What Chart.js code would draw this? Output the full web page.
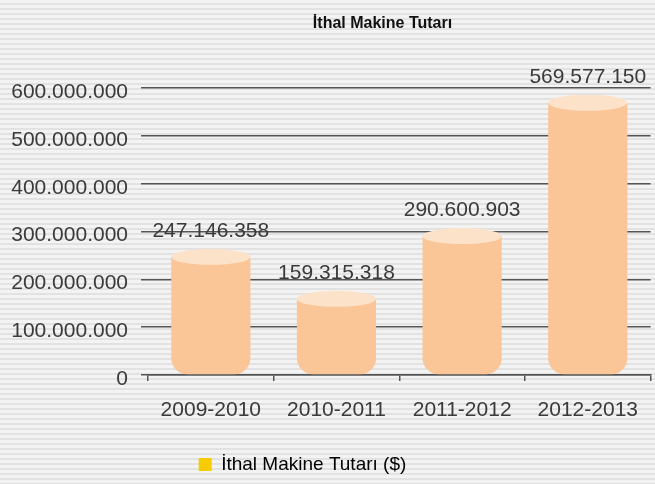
<!DOCTYPE html>
<html>
<head>
<meta charset="utf-8">
<script src="https://cdn.jsdelivr.net/npm/chart.js@4/dist/chart.umd.min.js"></script>
<style>
    html, body {
        margin: 0;
        padding: 0;
    }
    body {
        background: repeating-linear-gradient(to bottom, #f3f3f3 0px, #f3f3f3 3px, #e2e2e2 3px, #e2e2e2 5px);
    }
    .wrap {
        width: 655px;
        height: 484px;
    }
</style>
</head>
<body>
<div class="wrap"><canvas id="chart"></canvas></div>
<script>
const titleText = 'İthal Makine Tutarı';
const legendText = 'İthal Makine Tutarı ($)';
const categories = ['2009-2010', '2010-2011', '2011-2012', '2012-2013'];
const values = [247146358, 159315318, 290600903, 569577150];
const yMin = 0;
const yMax = 600000000;
const yStep = 100000000;

const barColor = '#fac597';
const capColor = '#fde2ca';
const legendColor = '#f6cc00';
const textColor = '#3a3a3a';
const lineColor = '#555555';

// thousands separated with dots, Turkish style
function dotted(n) {
    return String(n).replace(/\B(?=(\d{3})+(?!\d))/g, '.');
}

Chart.defaults.font.family = '"Liberation Sans", Arial, sans-serif';
Chart.defaults.color = textColor;

// cylinder tops and value labels, placed from the bar elements
const cylinderCaps = {
    id: 'cylinderCaps',
    afterDatasetsDraw(chart) {
        const ctx = chart.ctx;
        chart.getDatasetMeta(0).data.forEach((bar, i) => {
            const {x, y, width} = bar.getProps(['x', 'y', 'width'], true);
            ctx.save();
            ctx.fillStyle = capColor;
            ctx.beginPath();
            ctx.ellipse(x, y, width / 2, 8, 0, 0, Math.PI * 2);
            ctx.fill();
            ctx.font = '21px "Liberation Sans", Arial, sans-serif';
            ctx.fillStyle = textColor;
            ctx.textAlign = 'center';
            ctx.textBaseline = 'middle';
            ctx.fillText(dotted(values[i]), x, y - 26);
            ctx.restore();
        });
    }
};

// title and legend sit off-centre in the original
const shiftBlocks = {
    id: 'shiftBlocks',
    afterLayout(chart) {
        if (chart.titleBlock) {
            chart.titleBlock.left += 55;
            chart.titleBlock.right += 55;
        }
        if (chart.legend) {
            chart.legend.left -= 25;
            chart.legend.right -= 25;
        }
    }
};

new Chart(document.getElementById('chart'), {
    type: 'bar',
    data: {
        labels: categories,
        datasets: [{
            label: legendText,
            data: values,
            backgroundColor: barColor,
            borderWidth: 0,
            borderSkipped: false,
            borderRadius: {topLeft: 0, topRight: 0, bottomLeft: 16, bottomRight: 16},
            barPercentage: 0.63,
            categoryPercentage: 1
        }]
    },
    options: {
        responsive: true,
        maintainAspectRatio: false,
        animation: false,
        layout: {padding: 0},
        plugins: {
            title: {
                display: true,
                text: titleText,
                color: '#111',
                font: {size: 16, weight: 'bold'},
                padding: {top: 14, bottom: 55}
            },
            legend: {
                display: true,
                position: 'bottom',
                labels: {
                    boxWidth: 13,
                    boxHeight: 13,
                    padding: 10,
                    color: textColor,
                    font: {size: 19},
                    generateLabels: () => [{
                        text: legendText,
                        fillStyle: legendColor,
                        strokeStyle: legendColor,
                        lineWidth: 0,
                        hidden: false,
                        datasetIndex: 0
                    }]
                }
            },
            tooltip: {enabled: false}
        },
        scales: {
            x: {
                offset: true,
                afterFit: (scale) => { scale.height = 70; },
                grid: {
                    display: true,
                    drawOnChartArea: false,
                    drawTicks: true,
                    tickLength: 6,
                    offset: true,
                    color: lineColor,
                    lineWidth: 1.5
                },
                border: {display: true, color: lineColor, width: 1.5},
                ticks: {
                    color: textColor,
                    font: {size: 21},
                    padding: 17,
                    maxRotation: 0
                }
            },
            y: {
                min: yMin,
                max: yMax,
                afterFit: (scale) => { scale.width = 148; },
                grid: {
                    color: lineColor,
                    lineWidth: 1.5,
                    drawTicks: true,
                    tickLength: 7
                },
                border: {display: false},
                ticks: {
                    stepSize: yStep,
                    color: textColor,
                    font: {size: 21},
                    padding: 13,
                    labelOffset: 4,
                    callback: (v) => dotted(v)
                }
            }
        }
    },
    plugins: [cylinderCaps, shiftBlocks]
});
</script>
</body>
</html>
